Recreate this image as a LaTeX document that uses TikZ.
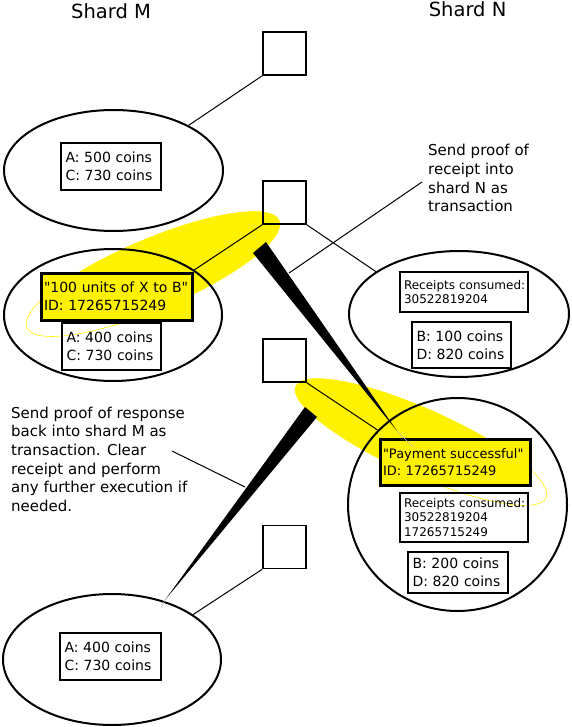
\documentclass[tikz,border=0pt]{standalone}
\usepackage{fontspec}
\newfontfamily\dejavu{DejaVu Sans}
\usetikzlibrary{shapes.geometric}
\begin{document}
\begin{tikzpicture}[x=1pt,y=-1pt,
  shard/.style={draw, line width=2pt, ellipse, inner sep=0pt},
  slot/.style={draw, line width=1.6pt, rectangle, minimum size=43pt, inner sep=0pt},
  acct/.style={draw, line width=1.6pt, rectangle, inner xsep=4.5pt, inner ysep=0pt, align=left, font=\dejavu\fontsize{14pt}{17.6pt}\selectfont},
  rcpt/.style={draw, line width=1.6pt, rectangle, inner xsep=4pt, inner ysep=0pt, align=left, font=\dejavu\fontsize{12pt}{14.6pt}\selectfont},
  msg/.style={draw, line width=3pt, fill=yellow, rectangle, inner xsep=3pt, inner ysep=0pt, align=left, font=\dejavu\fontsize{14pt}{17.6pt}\selectfont},
  wire/.style={draw, line width=1pt},
  notetext/.style={anchor=base west, inner sep=0pt, font=\dejavu\fontsize{15pt}{18.6pt}\selectfont},
  headtext/.style={anchor=base west, inner sep=0pt, font=\dejavu\fontsize{19.5pt}{23pt}\selectfont},
  beam/.style={fill=black},
  glow/.style={fill=yellow},
  glowline/.style={draw=yellow, line width=0.6pt}
]
\useasboundingbox (0,0) rectangle (571,727);

% yellow highlight ellipses
\begin{scope}
  \clip (41,190) rectangle (300,321);
  \begin{scope}[shift={(153,274)}, rotate=23]
    \fill[glow] (0,0) ellipse (137pt and 35pt);
  \end{scope}
\end{scope}
\begin{scope}[shift={(153,274)}, rotate=23]
  \draw[glowline] (0,0) ellipse (137pt and 35pt);
\end{scope}
\begin{scope}
  \clip (280,360) rectangle (530,486);
  \begin{scope}[shift={(421,442)}, rotate=-24]
    \fill[glow] (0,0) ellipse (137pt and 33pt);
  \end{scope}
\end{scope}
\begin{scope}[shift={(421,442)}, rotate=-24]
  \draw[glowline] (0,0) ellipse (137pt and 33pt);
\end{scope}

% squares
\node[slot] (s1) at (284.5,53.5) {};
\node[slot] (s2) at (284.5,202.5) {};
\node[slot] (s3) at (284.5,360.5) {};
\node[slot] (s4) at (284.5,547) {};

% shard states
\node[shard, minimum width=219pt, minimum height=121pt] (e1) at (113.5,170.5) {};
\node[shard, minimum width=218pt, minimum height=132pt] (e2) at (113,315) {};
\node[shard, minimum width=220pt, minimum height=126pt] (e3) at (459,314) {};
\node[shard, minimum width=219pt, minimum height=213pt] (e4) at (457.5,504.5) {};
\node[shard, minimum width=218pt, minimum height=131pt] (e5) at (112,659.5) {};

% boxes
\node[acct, text width=91pt, minimum height=47pt] (b1) at (111,166.5) {A: 500 coins\\C: 730 coins};
\node[msg, text width=145pt, minimum height=47pt] (b2) at (116.5,296.5) {\mbox{"100 units of X to B"}\\ID: 17265715249};
\node[acct, text width=90pt, minimum height=47pt] (b3) at (111.5,346.5) {A: 400 coins\\C: 730 coins};
\node[rcpt, text width=120pt, minimum height=40pt] (b4) at (464,292) {\mbox{Receipts consumed:}\\30522819204};
\node[acct, text width=90pt, minimum height=46pt] (b5) at (461.5,345) {B: 100 coins\\D: 820 coins};
\node[msg, text width=144pt, minimum height=46pt, font=\dejavu\fontsize{13pt}{16.7pt}\selectfont] (b6) at (455,462) {\mbox{"Payment successful"}\\ID: 17265715249};
\node[rcpt, text width=120pt, minimum height=49pt] (b7) at (464,517.5) {\mbox{Receipts consumed:}\\30522819204\\17265715249};
\node[acct, text width=91pt, minimum height=41pt] (b8) at (458,572.5) {B: 200 coins\\D: 820 coins};
\node[acct, text width=92pt, minimum height=47pt] (b9) at (110.5,656.5) {A: 400 coins\\C: 730 coins};

% connectors
\draw[wire] (s1.south west) -- (e1.31);
\draw[wire] (s2.south west) -- (e2.29);
\draw[wire] (s2.south east) -- (e3.153);
\draw[wire] (s3.south east) -- (e4.137);
\draw[wire] (s4.south west) -- (e5.29);

% wedges
\coordinate (w1a) at (253,253);
\coordinate (w1b) at (266,242);
\coordinate (w1t) at (397,431);
\coordinate (w1e) at (413,447);
\fill[beam] (w1a) -- (w1b) -- (w1t) -- cycle;
\draw[gray!50, line width=0.5pt] (w1t) -- (w1e);
\coordinate (w2a) at (305,407);
\coordinate (w2b) at (317,417);
\coordinate (w2t) at (165,600);
\coordinate (w2e) at (161,608);
\fill[beam] (w2a) -- (w2b) -- (w2t) -- cycle;
\draw[gray!50, line width=0.5pt] (w2t) -- (w2e);

% callouts
\coordinate (c1a) at (422,182);
\coordinate (c1b) at (289,273);
\draw[wire] (c1a) -- (c1b);
\coordinate (c2a) at (172,451);
\coordinate (c2b) at (245,487);
\draw[wire] (c2a) -- (c2b);

% titles
\node[headtext] (tm) at (71,19) {Shard M};
\node[headtext] (tn) at (428.6,16.5) {Shard N};

% note 1
\node[notetext] (n1a) at (428,156) {Send proof of};
\node[notetext] (n1b) at (428,174.6) {receipt into};
\node[notetext] (n1c) at (428,193.2) {shard N as};
\node[notetext] (n1d) at (428,211.8) {transaction};

% note 2
\node[notetext] (n2a) at (11,418.3) {Send proof of response};
\node[notetext] (n2b) at (11,436.9) {back into shard M as};
\node[notetext] (n2c) at (11,455.5) {transaction. Clear};
\node[notetext] (n2d) at (11,474.1) {receipt and perform};
\node[notetext] (n2e) at (11,492.7) {any further execution if};
\node[notetext] (n2f) at (11,511.3) {needed.};
\end{tikzpicture}
\end{document}
